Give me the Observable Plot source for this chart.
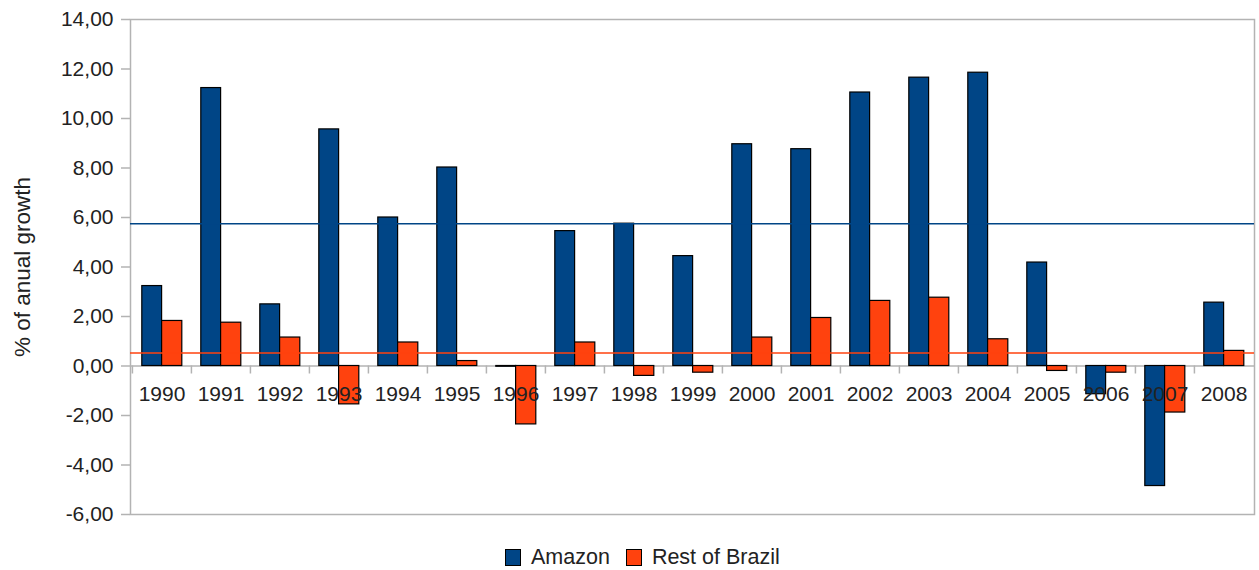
<!DOCTYPE html>
<html>
<head>
<meta charset="utf-8">
<script src="https://cdn.jsdelivr.net/npm/d3@7"></script>
<script src="https://cdn.jsdelivr.net/npm/@observablehq/plot@0.6"></script>
<style>
  html, body { margin: 0; padding: 0; background: #fff; }
  body { width: 1259px; height: 570px; overflow: hidden; font-family: "Liberation Sans", Arial, sans-serif; }
  #legend { height: 25px; display: flex; align-items: center; padding-left: 505px; font-size: 21.5px; color: #222; }
  #legend .item { display: flex; align-items: center; margin-right: 16px; }
  #legend .sw { width: 14px; height: 15px; border: 1px solid #000; margin-right: 10px; box-sizing: content-box; }
</style>
</head>
<body>
<div id="chart"></div>
<div id="legend"></div>
<script>
const years = ["1990","1991","1992","1993","1994","1995","1996","1997","1998","1999",
               "2000","2001","2002","2003","2004","2005","2006","2007","2008"];
const amazon = [3.23, 11.23, 2.49, 9.56, 6.00, 8.02, -0.03, 5.45, 5.75, 4.44,
                8.96, 8.76, 11.05, 11.65, 11.85, 4.18, -1.14, -4.85, 2.56];
const rest = [1.82, 1.75, 1.15, -1.55, 0.95, 0.20, -2.36, 0.95, -0.40, -0.27,
              1.15, 1.94, 2.63, 2.76, 1.08, -0.20, -0.27, -1.88, 0.61];
const seriesNames = ["Amazon", "Rest of Brazil"];
const yTicks = [-6, -4, -2, 0, 2, 4, 6, 8, 10, 12, 14];
const yLabel = "% of anual growth";

const colors = ["#004586", "#ff420e"];
const rows = years.map((y, i) => ({year: y, amazon: amazon[i], rest: rest[i]}));
const meanAmazon = d3.mean(amazon);
const meanRest = d3.mean(rest);

const W = 1259, H = 545, ML = 130, MR = 5, MT = 19, MB = 31;
const bw = (W - ML - MR) / years.length;
const fmt = d => d.toFixed(2).replace(".", ",");

const chart = Plot.plot({
  width: W, height: H,
  marginLeft: ML, marginRight: MR, marginTop: MT, marginBottom: MB,
  style: {fontFamily: "Liberation Sans, Arial, sans-serif", fontSize: "21px", background: "#fff"},
  x: {type: "band", domain: years, padding: 0, axis: null},
  y: {domain: [-6, 14], axis: null},
  marks: [
    Plot.frame({stroke: "#b3b3b3", strokeWidth: 1.5}),
    Plot.ruleY([0], {stroke: "#b3b3b3", strokeWidth: 1.5}),
    Plot.ruleX(years, {x: d => d, y1: 0, y2: 0, insetBottom: -8, dx: -bw / 2, stroke: "#b3b3b3", strokeWidth: 1.5}),
    Plot.axisY({ticks: yTicks, tickFormat: fmt, tickSize: 9, tickPadding: 8, stroke: "#b3b3b3", strokeWidth: 1.5, fill: "#222", fontSize: 21, label: null}),
    Plot.barY(rows, {x: "year", y: "amazon", fill: colors[0], stroke: "#000", strokeWidth: 1.2, insetLeft: 9.8, insetRight: 29.4}),
    Plot.barY(rows, {x: "year", y: "rest", fill: colors[1], stroke: "#000", strokeWidth: 1.2, insetLeft: 29.6, insetRight: 9.2}),
    Plot.ruleY([meanAmazon], {stroke: colors[0], strokeWidth: 1.5}),
    Plot.ruleY([meanRest], {stroke: colors[1], strokeWidth: 1.5}),
    Plot.text(years, {x: d => d, y: 0, dy: 28, text: d => d, fill: "#222", fontSize: 21}),
    Plot.text([yLabel], {frameAnchor: "left", textAnchor: "middle", dx: -108, rotate: -90, text: d => d, fill: "#222", fontSize: 22.5})
  ]
});
document.getElementById("chart").appendChild(chart);

const legend = document.getElementById("legend");
seriesNames.forEach((name, i) => {
  const item = document.createElement("div");
  item.className = "item";
  const sw = document.createElement("div");
  sw.className = "sw";
  sw.style.background = colors[i];
  const label = document.createElement("span");
  label.textContent = name;
  item.appendChild(sw);
  item.appendChild(label);
  legend.appendChild(item);
});
</script>
</body>
</html>
